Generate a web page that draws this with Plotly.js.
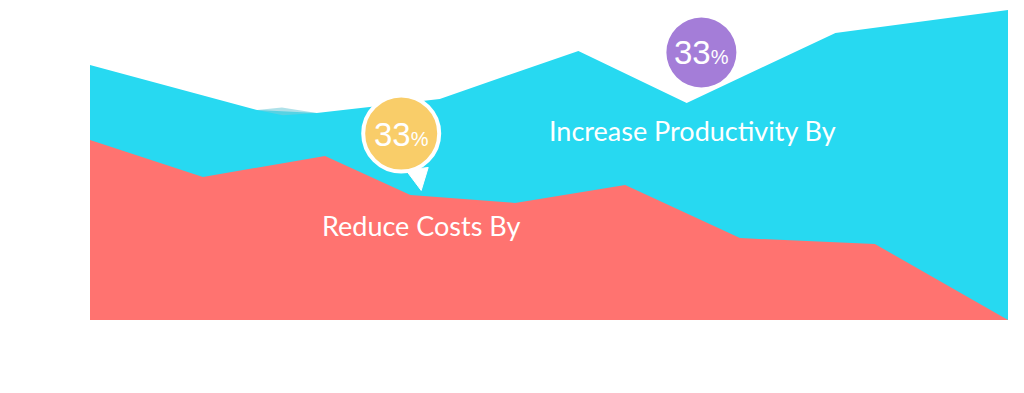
<!DOCTYPE html>
<html>
<head>
<meta charset="utf-8">
<script src="https://cdn.plot.ly/plotly-3.0.1.min.js"></script>
<style>html,body{margin:0;padding:0;background:#fff;}#chart{width:1024px;height:393px;}</style>
</head>
<body>
<div id="chart"></div>
<script>
// Productivity (cyan) area
const productivityX = [0, 18.2, 24.7, 30.2, 38.1, 53.2, 65.0, 81.2, 100];
const productivityY = [79.7, 65.6, 64.7, 66.6, 69.1, 84.1, 67.8, 89.7, 96.9];
// Costs (red) area
const costsX = [0, 12.3, 25.6, 34.9, 46.3, 58.3, 70.8, 85.5, 100];
const costsY = [56.25, 44.7, 51.25, 39.1, 36.6, 42.2, 25.6, 23.75, 0];
// small shaded overlap patch
const patchX = [18.2, 20.9, 24.7, 21.0, 18.2];
const patchY = [65.6, 66.4, 64.7, 64.0, 65.6];

const labels = ["Reduce Costs By", "Increase Productivity By"];
const pctValues = [33, 33];

const cyan = "#27d9f1";
const red = "#ff7370";
const yellow = "#f9cd69";
const purple = "#a47dd8";

const traces = [
  {x: productivityX, y: productivityY, type: "scatter", mode: "lines", fill: "tozeroy",
   fillcolor: cyan, line: {color: cyan, width: 0}, hoverinfo: "skip"},
  {x: patchX, y: patchY, type: "scatter", mode: "lines", fill: "toself",
   fillcolor: "rgba(120,205,218,0.6)", line: {width: 0}, hoverinfo: "skip"},
  {x: costsX, y: costsY, type: "scatter", mode: "lines", fill: "tozeroy",
   fillcolor: red, line: {color: red, width: 0}, hoverinfo: "skip"}
];

const yBub = {x: 33.9, y: 58.3};
const pBub = {x: 66.6, y: 83.6};

const shapes = [
  // yellow bubble tail (white)
  {type: "path", xref: "x", yref: "y", xsizemode: "pixel", ysizemode: "pixel",
   xanchor: yBub.x, yanchor: yBub.y, path: "M 5 -37 L 20 -57 L 27 -34 Z",
   fillcolor: "#ffffff", line: {color: "#ffffff", width: 1}},
  // yellow bubble
  {type: "circle", xref: "x", yref: "y", xsizemode: "pixel", ysizemode: "pixel",
   xanchor: yBub.x, yanchor: yBub.y, x0: -38, x1: 38, y0: -38, y1: 38,
   fillcolor: yellow, line: {color: "#ffffff", width: 4}},
  // purple bubble
  {type: "circle", xref: "x", yref: "y", xsizemode: "pixel", ysizemode: "pixel",
   xanchor: pBub.x, yanchor: pBub.y, x0: -35, x1: 35, y0: -35, y1: 35,
   fillcolor: purple, line: {color: purple, width: 0}}
];

function pctText(v){ return v + "<span style='font-size:20px'>%</span>"; }

const annotations = [
  {x: yBub.x, y: yBub.y, xref: "x", yref: "y", text: pctText(pctValues[0]), showarrow: false,
   font: {family: "Liberation Sans, Arial, sans-serif", size: 33, color: "#ffffff"}, yshift: -1},
  {x: pBub.x, y: pBub.y, xref: "x", yref: "y", text: pctText(pctValues[1]), showarrow: false,
   font: {family: "Liberation Sans, Arial, sans-serif", size: 33, color: "#ffffff"}, yshift: 0},
  {x: 36.1, y: 29.4, xref: "x", yref: "y", text: labels[0], showarrow: false,
   font: {family: "Lato, sans-serif", size: 27, color: "#ffffff"}},
  {x: 65.6, y: 59.2, xref: "x", yref: "y", text: labels[1], showarrow: false,
   font: {family: "Lato, sans-serif", size: 27, color: "#ffffff"}}
];

const layout = {
  width: 1024, height: 393,
  margin: {l: 90, r: 16, t: 0, b: 73, pad: 0},
  paper_bgcolor: "#ffffff", plot_bgcolor: "#ffffff",
  showlegend: false,
  xaxis: {range: [0, 100], visible: false, fixedrange: true},
  yaxis: {range: [0, 100], visible: false, fixedrange: true},
  shapes: shapes,
  annotations: annotations
};

Plotly.newPlot("chart", traces, layout, {displayModeBar: false, staticPlot: true});
</script>
</body>
</html>
